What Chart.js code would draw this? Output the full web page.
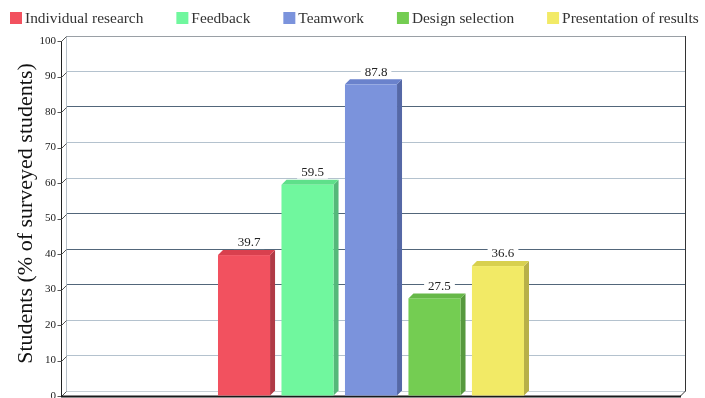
<!DOCTYPE html>
<html>
<head>
<meta charset="utf-8">
<script src="https://cdn.jsdelivr.net/npm/chart.js@4.4.1/dist/chart.umd.min.js"></script>
<style>
  html, body { margin: 0; padding: 0; background: #fff; }
  canvas { display: block; }
</style>
</head>
<body>
<canvas id="chart" width="705" height="398"></canvas>
<script>
// survey results, one bar per activity
const seriesNames = ['Individual research', 'Feedback', 'Teamwork', 'Design selection', 'Presentation of results'];
const seriesValues = [39.7, 59.5, 87.8, 27.5, 36.6];
const yTickValues = [0, 10, 20, 30, 40, 50, 60, 70, 80, 90, 100];
const yTitle = 'Students (% of surveyed students)';

// face colours: front, top, side
const frontColors = ['#f2515f', '#70f79e', '#7b93dc', '#74cd52', '#f2ea66'];
const topColors   = ['#d9404e', '#5ee08a', '#6a82cc', '#66b848', '#d8d04e'];
const sideColors  = ['#b03a46', '#55b87a', '#5568a6', '#57993e', '#b8b048'];
const gridShades = {0: '#c8d0d6', 10: '#b4c2ce', 20: '#b4c2ce', 30: '#52667a', 40: '#52667a', 50: '#52667a',
                    60: '#b4c2ce', 70: '#b4c2ce', 80: '#52667a', 90: '#b4c2ce', 100: '#9aa0a6'};

const DEPTH = 5; // 3d offset in px
const serif = "'Liberation Serif', 'Times New Roman', serif";

// single-row legend across the top (the built-in one wraps at this width)
const topLegend = {
    id: 'topLegend',
    afterDraw(chart) {
        const ctx = chart.ctx;
        const items = chart.legend.legendItems || [];
        ctx.save();
        ctx.font = '15.4px ' + serif;
        ctx.textBaseline = 'middle';
        ctx.textAlign = 'left';
        const box = 12, gap = 3, spacing = 33;
        const widths = items.map(it => ctx.measureText(it.text).width);
        const total = widths.reduce((s, w) => s + box + gap + w, 0) + spacing * (items.length - 1);
        let x = Math.round(chart.width / 2 + 2 - total / 2);
        const cy = 18;
        items.forEach((it, i) => {
            ctx.fillStyle = it.fillStyle;
            ctx.fillRect(x, cy - 6, box, box);
            ctx.fillStyle = '#333';
            ctx.fillText(it.text, x + box + gap, cy + 1);
            x += box + gap + widths[i] + spacing;
        });
        ctx.restore();
    }
};

const bars3d = {
    id: 'bars3d',
    beforeDatasetsDraw(chart) {
        const ctx = chart.ctx;
        const a = chart.chartArea;
        const ys = chart.scales.y;
        ctx.save();
        // back wall edges
        ctx.lineWidth = 1;
        ctx.strokeStyle = '#b8c0c8';
        ctx.beginPath();
        ctx.moveTo(a.left + 0.5, a.top); ctx.lineTo(a.left + 0.5, a.bottom);
        ctx.stroke();
        ctx.strokeStyle = '#333';
        ctx.beginPath();
        ctx.moveTo(a.right - 0.5, a.top); ctx.lineTo(a.right - 0.5, a.bottom);
        ctx.lineTo(a.right - 0.5 - DEPTH, a.bottom + DEPTH);
        ctx.stroke();
        // front axis with slanted ticks
        const fx = a.left - DEPTH + 0.5;
        ctx.strokeStyle = '#222';
        ctx.beginPath();
        ctx.moveTo(fx, ys.getPixelForValue(100) + DEPTH);
        ctx.lineTo(fx, ys.getPixelForValue(0) + DEPTH + 1);
        ctx.stroke();
        ctx.strokeStyle = '#555';
        yTickValues.forEach(v => {
            const py = Math.round(ys.getPixelForValue(v)) + 0.5;
            ctx.beginPath();
            ctx.moveTo(fx - 4, py + DEPTH);
            ctx.lineTo(fx, py + DEPTH);
            ctx.lineTo(a.left + 0.5, py);
            ctx.stroke();
        });
        // floor front edge
        ctx.strokeStyle = '#1a1a1a';
        ctx.lineWidth = 2;
        ctx.beginPath();
        ctx.moveTo(a.left - DEPTH, ys.getPixelForValue(0) + DEPTH + 0.5);
        ctx.lineTo(a.right - DEPTH, ys.getPixelForValue(0) + DEPTH + 0.5);
        ctx.stroke();

        // bars
        chart.data.datasets.forEach((ds, i) => {
            const bar = chart.getDatasetMeta(i).data[0];
            const p = bar.getProps(['x', 'y', 'base', 'width'], true);
            const L = p.x - p.width / 2, R = p.x + p.width / 2;
            const T = p.y, B = p.base;
            ctx.fillStyle = sideColors[i];
            ctx.beginPath();
            ctx.moveTo(R - DEPTH, T + DEPTH); ctx.lineTo(R, T); ctx.lineTo(R, B); ctx.lineTo(R - DEPTH, B + DEPTH);
            ctx.closePath(); ctx.fill();
            ctx.fillStyle = topColors[i];
            ctx.beginPath();
            ctx.moveTo(L - DEPTH, T + DEPTH); ctx.lineTo(L, T); ctx.lineTo(R, T); ctx.lineTo(R - DEPTH, T + DEPTH);
            ctx.closePath(); ctx.fill();
            ctx.fillStyle = frontColors[i];
            ctx.fillRect(L - DEPTH, T + DEPTH, p.width, B - T);
        });

        // value labels on white boxes
        ctx.font = '13px ' + serif;
        ctx.textAlign = 'center';
        ctx.textBaseline = 'middle';
        chart.data.datasets.forEach((ds, i) => {
            const bar = chart.getDatasetMeta(i).data[0];
            const txt = String(ds.data[0]);
            const w = ctx.measureText(txt).width;
            const ly = bar.y - 8;
            ctx.fillStyle = '#fff';
            ctx.fillRect(bar.x - w / 2 - 4, ly - 8, w + 8, 15);
            ctx.fillStyle = '#222';
            ctx.fillText(txt, bar.x, ly + 1);
        });
        ctx.restore();
        return false;
    }
};

new Chart(document.getElementById('chart'), {
    type: 'bar',
    data: {
        labels: [''],
        datasets: seriesNames.map((name, i) => ({
            label: name,
            data: [seriesValues[i]],
            backgroundColor: frontColors[i],
            borderWidth: 0,
            categoryPercentage: 0.512,
            barPercentage: 0.82
        }))
    },
    options: {
        responsive: false,
        animation: false,
        devicePixelRatio: 1,
        layout: { padding: { top: 36, right: 19, bottom: 7, left: 5 } },
        plugins: {
            legend: { display: false },
            tooltip: { enabled: false }
        },
        scales: {
            x: { display: false },
            y: {
                min: 0, max: 100,
                afterBuildTicks: scale => { scale.ticks = yTickValues.map(v => ({ value: v })); },
                afterFit: scale => {
                    scale.width = 61;
                    scale.paddingTop = 0;
                    scale.paddingBottom = 0;
                },
                border: { display: false },
                grid: {
                    drawTicks: false,
                    color: c => gridShades[c.tick.value] || '#b4c2ce'
                },
                ticks: {
                    padding: 10, labelOffset: DEPTH,
                    color: '#222',
                    font: { family: serif, size: 11 }
                },
                title: {
                    display: true, text: yTitle,
                    color: '#111',
                    padding: { top: 8, bottom: 0 },
                    font: { family: serif, size: 22 }
                }
            }
        }
    },
    plugins: [bars3d, topLegend]
});
</script>
</body>
</html>
